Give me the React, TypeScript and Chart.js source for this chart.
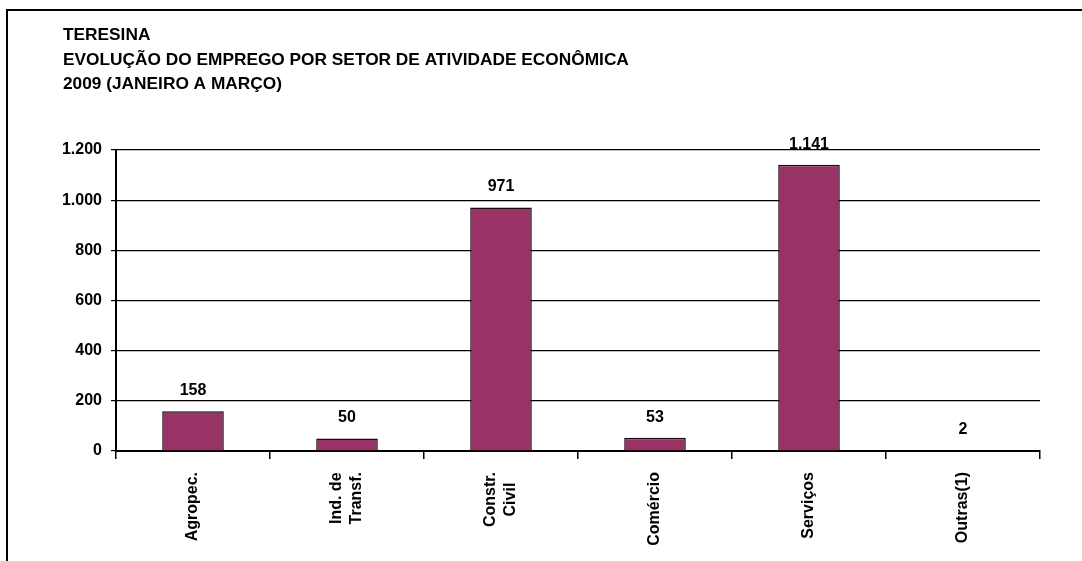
import React, { useEffect, useRef } from "react";
import { Chart, registerables } from "chart.js";

Chart.register(...registerables);

const titleLines = [
  "TERESINA",
  "EVOLUÇÃO DO EMPREGO POR SETOR DE ATIVIDADE ECONÔMICA",
  "2009 (JANEIRO A MARÇO)",
];
const categories: string[][] = [
  ["Agropec."],
  ["Ind. de", "Transf."],
  ["Constr.", "Civil"],
  ["Comércio"],
  ["Serviços"],
  ["Outras(1)"],
];
const values = [158, 50, 971, 53, 1141, 2];
const yTicks = [0, 200, 400, 600, 800, 1000, 1200];

const FONT = '"Liberation Sans", Arial, sans-serif';

function fmt(v: number): string {
  return String(Math.round(v)).replace(/\B(?=(\d{3})+(?!\d))/g, ".");
}

const decorPlugin = {
  id: "decor",
  afterDraw(chart: any) {
    const ctx = chart.ctx;
    ctx.save();
    // title
    ctx.fillStyle = "#000";
    ctx.font = `bold 17.3px ${FONT}`;
    ctx.textAlign = "left";
    ctx.textBaseline = "alphabetic";
    const baselines = [40, 65, 89];
    titleLines.forEach((t, i) => ctx.fillText(t, 63, baselines[i]));
    // data labels
    const meta = chart.getDatasetMeta(0);
    ctx.font = `bold 16px ${FONT}`;
    ctx.textAlign = "center";
    meta.data.forEach((bar: any, i: number) => {
      ctx.fillText(fmt(values[i]), bar.x, bar.y - 16);
    });
    // category labels (rotated, lines centred within block)
    const xs = chart.scales.x;
    const top = chart.chartArea.bottom + 21;
    const lh = 20;
    categories.forEach((lines, i) => {
      const cx = xs.getPixelForValue(i);
      const w = Math.max(...lines.map((l) => ctx.measureText(l).width));
      const cy = top + w / 2;
      lines.forEach((l, j) => {
        ctx.save();
        ctx.translate(cx + (j - (lines.length - 1) / 2) * lh, cy);
        ctx.rotate(-Math.PI / 2);
        ctx.textAlign = "center";
        ctx.textBaseline = "middle";
        ctx.fillText(l, 0, 0);
        ctx.restore();
      });
    });
    ctx.restore();
  },
};

export default function App() {
  const ref = useRef<HTMLCanvasElement>(null);
  useEffect(() => {
    if (!ref.current) return;
    const chart = new Chart(ref.current, {
      type: "bar",
      data: {
        labels: categories.map((c) => c.join(" ")),
        datasets: [
          {
            data: values,
            backgroundColor: "#993366",
            borderColor: "#1a0a12",
            borderWidth: 1.5,
            barPercentage: 0.4,
            categoryPercentage: 1,
          },
        ],
      },
      options: {
        animation: false,
        responsive: false,
        layout: { padding: { top: 150, right: 42, left: 0, bottom: 0 } },
        plugins: {
          legend: { display: false },
          title: { display: false },
          tooltip: { enabled: false },
        },
        scales: {
          x: {
            grid: {
              display: true,
              drawOnChartArea: false,
              drawTicks: true,
              tickLength: 8,
              color: "#000",
              lineWidth: 1.5,
              offset: true,
            },
            border: { display: true, color: "#000", width: 2 },
            ticks: { display: false },
            afterFit(scale: any) {
              scale.height = 110;
            },
          },
          y: {
            min: 0,
            max: 1200,
            afterBuildTicks(scale: any) {
              scale.ticks = yTicks.map((v) => ({ value: v }));
            },
            grid: {
              color: "#000",
              lineWidth: 1.2,
              drawTicks: true,
              tickLength: 5,
            },
            border: { display: true, color: "#000", width: 2 },
            ticks: {
              color: "#000",
              font: { family: FONT, size: 16, weight: "bold" },
              padding: 9,
              callback: (v: any) => fmt(Number(v)),
            },
            afterFit(scale: any) {
              scale.width = 116;
            },
          },
        },
      },
      plugins: [decorPlugin],
    });
    return () => chart.destroy();
  }, []);

  return (
    <div style={{ position: "fixed", left: 0, top: 0, width: 1082, height: 561, background: "#fff", overflow: "hidden" }}>
      <div
        style={{
          position: "absolute",
          left: 6,
          top: 9,
          width: 1076,
          height: 552,
          borderLeft: "2px solid #000",
          borderTop: "2px solid #000",
          boxSizing: "border-box",
        }}
      />
      <canvas ref={ref} width={1082} height={561} style={{ position: "absolute", left: 0, top: 0 }} />
    </div>
  );
}
